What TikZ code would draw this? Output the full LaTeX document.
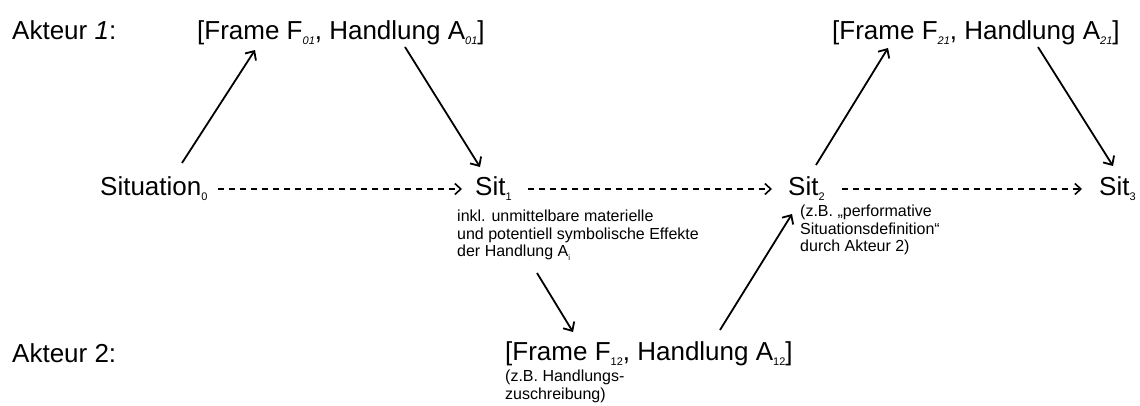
\documentclass[tikz,border=0pt]{standalone}
\usepackage{fontspec}
\setmainfont{Liberation Sans}
\usetikzlibrary{arrows.meta,calc}
\newcommand\sbx[1]{\raisebox{-0.22em}{\fontsize{11}{12}\selectfont #1}}
\newcommand\sbs[1]{\raisebox{-0.22em}{\fontsize{8}{9}\selectfont #1}}
\tikzset{
  big/.style={inner sep=0pt, anchor=base west, font=\fontsize{26}{30}\selectfont},
  note/.style={inner sep=0pt, anchor=north west, align=left, font=\fontsize{16}{17.5}\selectfont},
  arr/.style={line width=1.8pt, -{Straight Barb[length=7pt,width=13pt,line width=1.8pt]}},
  darr/.style={line width=1.5pt, dash pattern=on 6pt off 5pt, -{Straight Barb[length=6pt,width=11pt,line width=1.6pt]}}
}
\begin{document}
\begin{tikzpicture}[x=1pt,y=-1pt]
\useasboundingbox (0,0) rectangle (1140,405);
\node[big] (ak1) at (12,39) {Akteur \textit{1}:};
\node[big] (f01) at (197,39) {[Frame F\sbx{\textit{01}}, Handlung A\sbx{\textit{01}}]};
\node[big] (f21) at (832,39) {[Frame F\sbx{\textit{21}}, Handlung A\sbx{\textit{21}}]};
\node[big] (sit0) at (100,195) {Situation\sbx{0}};
\node[big] (sit1) at (475,195) {Sit\sbx{1}};
\node[big] (sit2) at (788,195) {Sit\sbx{2}};
\node[big] (sit3) at (1099,195) {Sit\sbx{3}};
\node[note] (ann1) at (457,210) {inkl. unmittelbare materielle\\und potentiell symbolische Effekte\\der Handlung A\sbs{i}};
\node[note] (ann2) at (800,205) {(z.B. „performative\\Situationsdefinition“\\durch Akteur 2)};
\node[big] (f12) at (505,360) {[Frame F\sbx{12}, Handlung A\sbx{12}]};
\node[note] (ann3) at (505,370) {(z.B. Handlungs-\\zuschreibung)};
\node[big] (ak2) at (12,362) {Akteur 2:};
% solid arrows
\draw[arr] ($(sit0.base west)+(82,-32)$) -- ($(f01.base west)+(58,11)$);
\draw[arr] ($(f01.base west)+(208,8)$) -- ($(sit1.base west)+(5,-28)$);
\draw[arr] ($(sit2.base west)+(28,-30)$) -- ($(f21.base west)+(56,9)$);
\draw[arr] ($(f21.base west)+(206,8)$) -- ($(sit3.base west)+(14,-29)$);
\draw[arr] ($(sit1.base west)+(62,78)$) -- ($(f12.base west)+(68,-28)$);
\draw[arr] ($(f12.base west)+(215,-30)$) -- ($(sit2.base west)+(4,19)$);
% dashed arrows
\draw[darr] ($(sit0.base west)+(118,-6)$) -- ($(sit1.base west)+(-13,-6)$);
\draw[darr] ($(sit1.base west)+(53,-6)$) -- ($(sit2.base west)+(-16,-6)$);
\draw[darr] ($(sit2.base west)+(54,-6)$) -- ($(sit3.base west)+(-17,-6)$);
\end{tikzpicture}
\end{document}
